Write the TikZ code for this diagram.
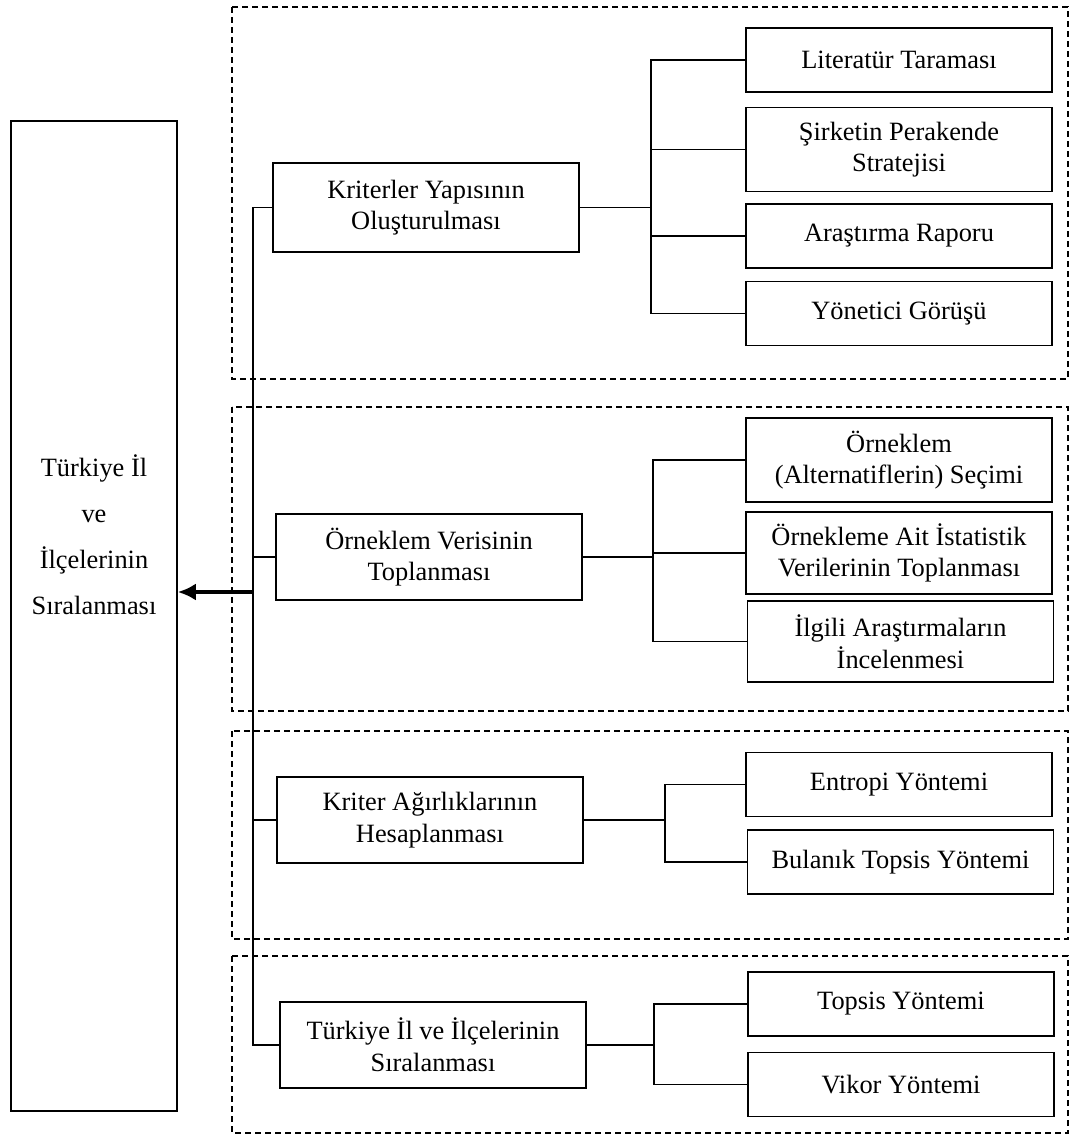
\documentclass[tikz,border=0pt]{standalone}
\usepackage{fontspec}
\setmainfont{Liberation Serif}
\usetikzlibrary{arrows.meta}

\begin{document}
\begin{tikzpicture}[x=0.5pt, y=-0.5pt, font=\fontsize{13.2}{15.8}\selectfont,
                    every node/.style={align=center, inner sep=0pt},
                    box/.style={draw, line width=0.8pt, minimum width=153pt, minimum height=43pt},
                    leaf/.style={box, minimum height=32pt},
                    tall leaf/.style={box, minimum height=42pt},
                    frame/.style={draw, line width=0.9pt, dash pattern=on 3pt off 2pt},
                    link/.style={line width=0.8pt}]

    \useasboundingbox (0,0) rectangle (1074,1139);

    % dashed groups
    \draw[frame] (232,7) rectangle (1068,379);
    \draw[frame] (232,407) rectangle (1068,711);
    \draw[frame] (232,731) rectangle (1068,939);
    \draw[frame] (232,956) rectangle (1068,1133);

    % result box
    \node[draw, line width=0.8pt, minimum width=83pt, minimum height=495pt] (sonuc) at (94,616) {};
    \node[font=\fontsize{13.2}{23}\selectfont] (sonucText) at (94,535)
        {Türkiye İl\\ve\\İlçelerinin\\Sıralanması};

    % steps
    \node[box, minimum height=44.5pt] (kriter) at (426,207.5) {Kriterler Yapısının\\Oluşturulması};
    \node[box] (orneklem) at (429,557) {Örneklem Verisinin\\Toplanması};
    \node[box] (agirlik) at (430,820) {Kriter Ağırlıklarının\\Hesaplanması};
    \node[box] (sira) at (433,1045) {Türkiye İl ve İlçelerinin\\Sıralanması};

    % leaves of the first step
    \node[leaf] (literatur) at (899,60) {Literatür Taraması};
    \node[tall leaf] (strateji) at (899,149.5) {Şirketin Perakende\\Stratejisi};
    \node[leaf] (rapor) at (899,236) {Araştırma Raporu};
    \node[leaf] (yonetici) at (899,313.5) {Yönetici Görüşü};

    % leaves of the second step
    \node[tall leaf] (secim) at (899,460) {Örneklem\\(Alternatiflerin) Seçimi};
    \node[tall leaf, minimum height=41pt] (istatistik) at (899,553) {Örnekleme Ait İstatistik\\Verilerinin Toplanması};
    \node[tall leaf, minimum height=40.5pt] (inceleme) at (900.5,641.5) {İlgili Araştırmaların\\İncelenmesi};

    % leaves of the third step
    \node[leaf] (entropi) at (899,784.5) {Entropi Yöntemi};
    \node[leaf] (bulanik) at (900.5,862) {Bulanık Topsis Yöntemi};

    % leaves of the fourth step
    \node[leaf] (topsis) at (901,1004) {Topsis Yöntemi};
    \node[leaf] (vikor) at (901,1084.5) {Vikor Yöntemi};

    % bus and arrow
    \coordinate (bus) at (253,592);
    \draw[link] (kriter.west) -| (bus) |- (sira.west);
    \draw[link] (orneklem.west) -- (orneklem.west -| bus);
    \draw[link] (agirlik.west) -- (agirlik.west -| bus);
    \draw[line width=1.7pt, -{Latex[length=9pt, width=8.5pt]}] (bus) -- (sonuc.east |- bus);

    % branches
    \coordinate (b1) at (651,207.5);
    \draw[link] (kriter.east) -- (b1);
    \draw[link] (literatur.west) -| (b1) |- (yonetici.west);
    \draw[link] (b1 |- strateji.west) -- (strateji.west);
    \draw[link] (b1 |- rapor.west) -- (rapor.west);

    \coordinate (b2) at (653,557);
    \draw[link] (orneklem.east) -- (b2);
    \draw[link] (secim.west) -| (b2) |- (inceleme.west);
    \draw[link] (b2 |- istatistik.west) -- (istatistik.west);

    \coordinate (b3) at (665,820);
    \draw[link] (agirlik.east) -- (b3);
    \draw[link] (entropi.west) -| (b3) |- (bulanik.west);

    \coordinate (b4) at (654,1045);
    \draw[link] (sira.east) -- (b4);
    \draw[link] (topsis.west) -| (b4) |- (vikor.west);
\end{tikzpicture}
\end{document}
